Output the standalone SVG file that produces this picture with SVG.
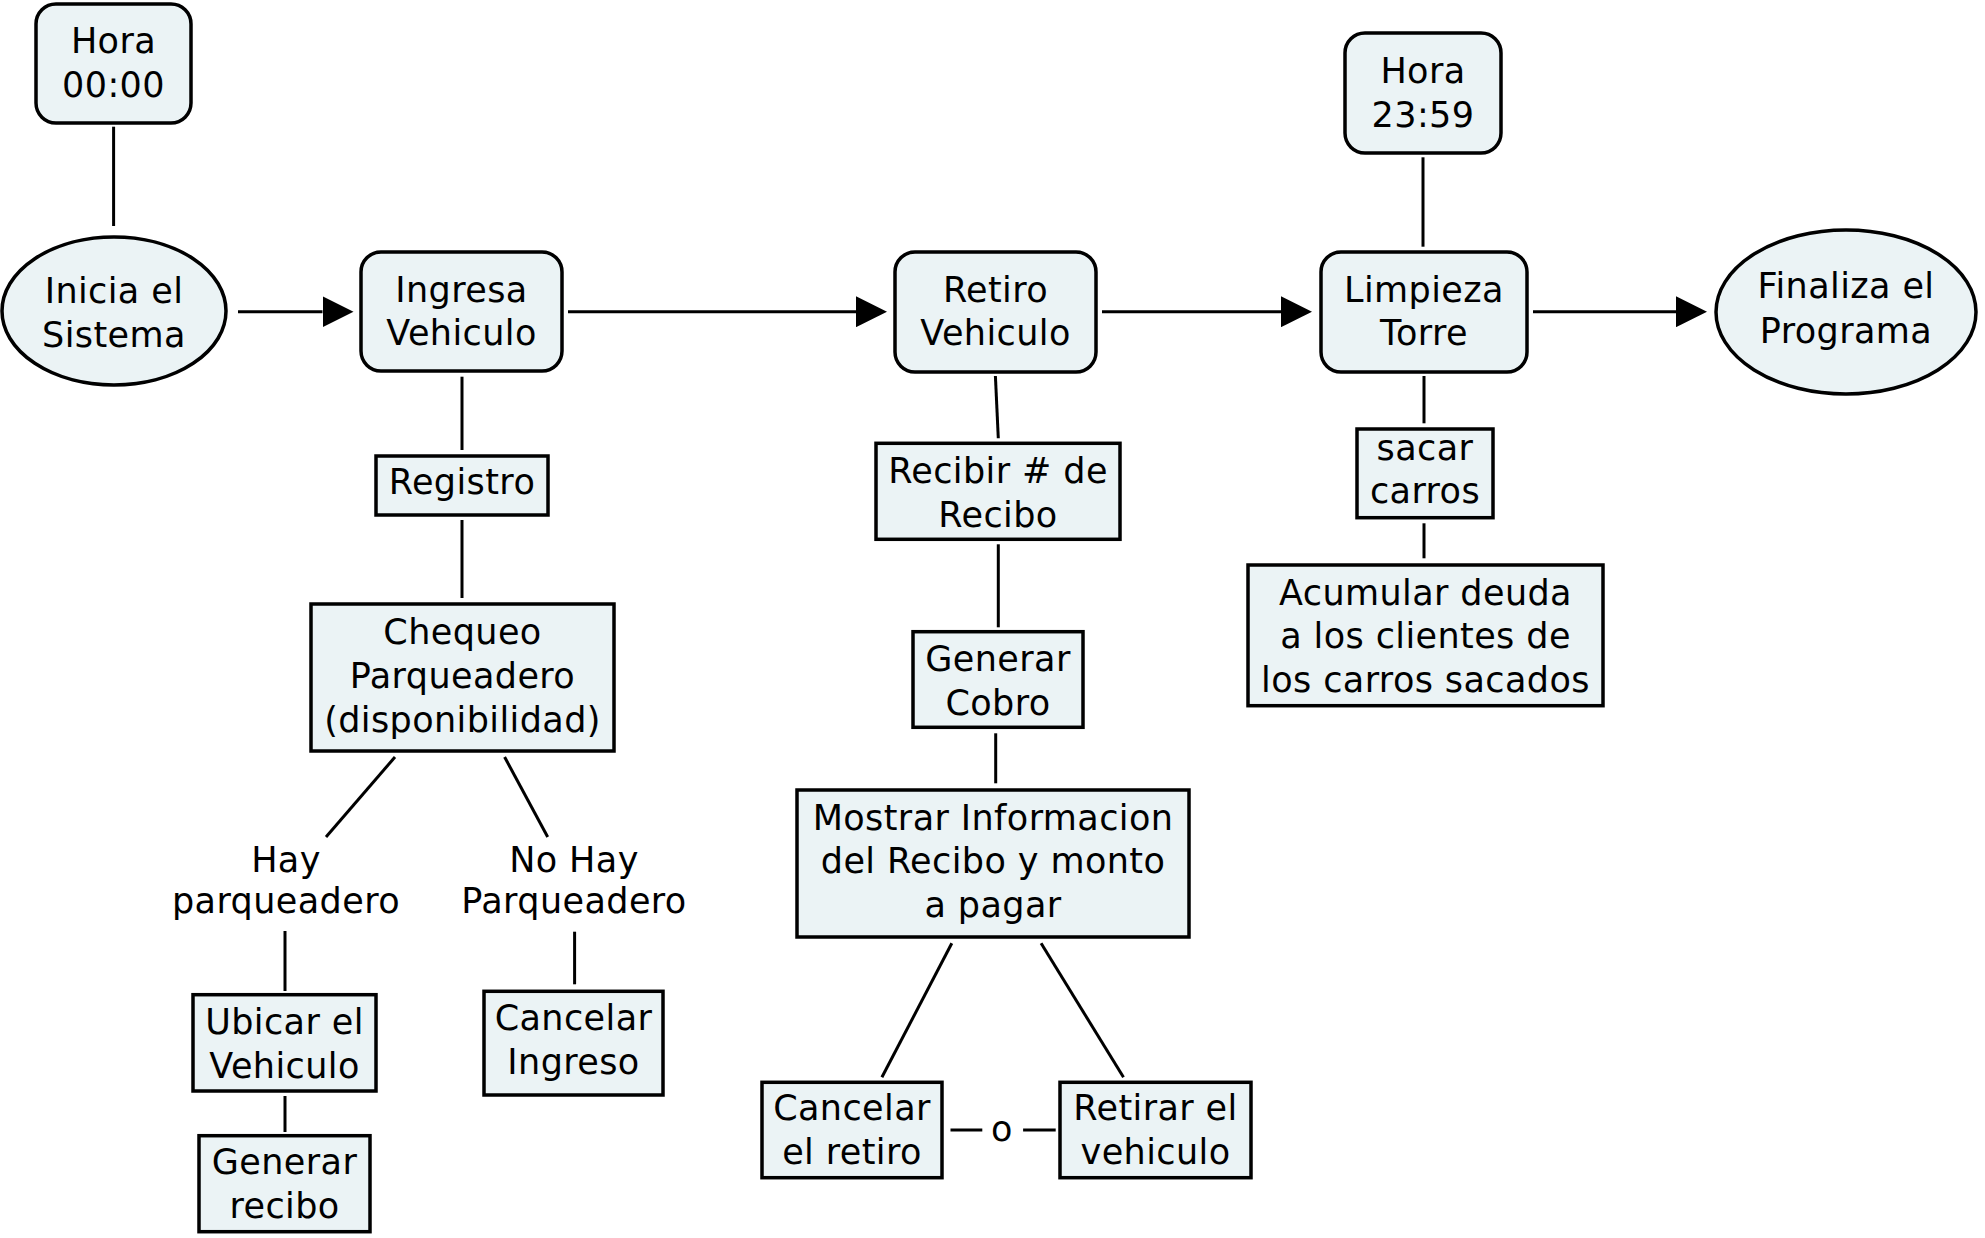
<svg xmlns="http://www.w3.org/2000/svg" width="1985" height="1238" viewBox="0 0 1985 1238">
<defs>
<style>
.n{fill:#ebf3f5;stroke:#000;stroke-width:3.5}
.t{font-family:"DejaVu Sans",Verdana,sans-serif;font-size:35px;text-anchor:middle;fill:#000;letter-spacing:0.4px}
.c line{stroke:#000;stroke-width:3;fill:none}
</style>
<marker id="ah" markerUnits="userSpaceOnUse" markerWidth="32" markerHeight="31" refX="0" refY="15.5" orient="auto">
<path d="M0,0 L31,15.5 L0,31 z" fill="#000"/>
</marker>
</defs>
<rect width="1985" height="1238" fill="#fff"/>
<g id="connectors" class="c">
<line x1="113.6" y1="126.7" x2="113.6" y2="226"/>
<line x1="1423" y1="157.3" x2="1423" y2="246.7"/>
<line x1="238" y1="311.7" x2="322.5" y2="311.7" marker-end="url(#ah)"/>
<line x1="568" y1="311.7" x2="856" y2="311.7" marker-end="url(#ah)"/>
<line x1="1102" y1="311.7" x2="1281" y2="311.7" marker-end="url(#ah)"/>
<line x1="1533" y1="311.7" x2="1676" y2="311.7" marker-end="url(#ah)"/>
<line x1="462" y1="376.7" x2="462" y2="450"/>
<line x1="462" y1="520" x2="462" y2="598"/>
<line x1="395" y1="757" x2="326" y2="837"/>
<line x1="504.6" y1="757" x2="547.7" y2="837"/>
<line x1="285" y1="931" x2="285" y2="991"/>
<line x1="285" y1="1096" x2="285" y2="1132"/>
<line x1="574.6" y1="931.7" x2="574.6" y2="984.3"/>
<line x1="995.4" y1="376" x2="998.3" y2="438.3"/>
<line x1="998.3" y1="544.3" x2="998.3" y2="627.3"/>
<line x1="995.7" y1="733.3" x2="995.7" y2="783.3"/>
<line x1="951.8" y1="943.3" x2="881.9" y2="1077.3"/>
<line x1="1041.1" y1="943.3" x2="1123.5" y2="1077.3"/>
<line x1="950.5" y1="1130" x2="982.3" y2="1130"/>
<line x1="1023.1" y1="1130" x2="1055.7" y2="1130"/>
<line x1="1424" y1="376" x2="1424" y2="423.3"/>
<line x1="1424" y1="523.3" x2="1424" y2="558.3"/>
</g>
<g id="hora0000">
<rect class="n" x="36" y="4" width="155" height="119" rx="20"/>
<text class="t" x="113.5" y="52.7">Hora</text>
<text class="t" x="113.5" y="96.7">00:00</text>
</g>
<g id="inicia">
<ellipse class="n" cx="114" cy="311" rx="112" ry="74"/>
<text class="t" x="114" y="303.3">Inicia el</text>
<text class="t" x="114" y="346.7">Sistema</text>
</g>
<g id="ingresa">
<rect class="n" x="361" y="252" width="201" height="119" rx="20"/>
<text class="t" x="461.5" y="301.7">Ingresa</text>
<text class="t" x="461.5" y="345">Vehiculo</text>
</g>
<g id="retiro">
<rect class="n" x="895" y="252" width="201" height="120" rx="20"/>
<text class="t" x="995.5" y="301.7">Retiro</text>
<text class="t" x="995.5" y="345">Vehiculo</text>
</g>
<g id="limpieza">
<rect class="n" x="1321" y="252" width="206" height="120" rx="20"/>
<text class="t" x="1424" y="301.7">Limpieza</text>
<text class="t" x="1424" y="345">Torre</text>
</g>
<g id="hora2359">
<rect class="n" x="1345" y="33" width="156" height="120" rx="20"/>
<text class="t" x="1423" y="83.3">Hora</text>
<text class="t" x="1423" y="126.7">23:59</text>
</g>
<g id="finaliza">
<ellipse class="n" cx="1846" cy="312" rx="130" ry="82"/>
<text class="t" x="1846" y="298.3">Finaliza el</text>
<text class="t" x="1846" y="343.3">Programa</text>
</g>
<g id="registro">
<rect class="n" x="376" y="456" width="172" height="59"/>
<text class="t" x="462" y="494">Registro</text>
</g>
<g id="chequeo">
<rect class="n" x="311" y="604" width="303" height="147"/>
<text class="t" x="462.5" y="644">Chequeo</text>
<text class="t" x="462.5" y="688.3">Parqueadero</text>
<text class="t" x="462.5" y="731.7">(disponibilidad)</text>
</g>
<g id="hay">
<text class="t" x="286" y="871.7">Hay</text>
<text class="t" x="286" y="913.3">parqueadero</text>
</g>
<g id="nohay">
<text class="t" x="574" y="871.7">No Hay</text>
<text class="t" x="574" y="913.3">Parqueadero</text>
</g>
<g id="ubicar">
<rect class="n" x="193" y="994.7" width="183" height="96.3"/>
<text class="t" x="284.5" y="1034">Ubicar el</text>
<text class="t" x="284.5" y="1077.7">Vehiculo</text>
</g>
<g id="generar-recibo">
<rect class="n" x="199" y="1135.7" width="171" height="96"/>
<text class="t" x="284.5" y="1174">Generar</text>
<text class="t" x="284.5" y="1218.3">recibo</text>
</g>
<g id="cancelar-ingreso">
<rect class="n" x="484" y="991.3" width="179" height="103.7"/>
<text class="t" x="573.5" y="1030">Cancelar</text>
<text class="t" x="573.5" y="1074.3">Ingreso</text>
</g>
<g id="recibir">
<rect class="n" x="876" y="443.3" width="244" height="96"/>
<text class="t" x="998" y="482.7">Recibir # de</text>
<text class="t" x="998" y="526.7">Recibo</text>
</g>
<g id="generar-cobro">
<rect class="n" x="913" y="631.7" width="170" height="95.6"/>
<text class="t" x="998" y="670.7">Generar</text>
<text class="t" x="998" y="715">Cobro</text>
</g>
<g id="mostrar">
<rect class="n" x="797" y="790" width="392" height="147"/>
<text class="t" x="993" y="830">Mostrar Informacion</text>
<text class="t" x="993" y="873.3">del Recibo y monto</text>
<text class="t" x="993" y="917.3">a pagar</text>
</g>
<g id="cancelar-retiro">
<rect class="n" x="762" y="1082.3" width="180" height="95.4"/>
<text class="t" x="852" y="1120">Cancelar</text>
<text class="t" x="852" y="1164">el retiro</text>
</g>
<g id="o">
<text class="t" x="1002" y="1140.7">o</text>
</g>
<g id="retirar">
<rect class="n" x="1060" y="1082.3" width="191" height="95.4"/>
<text class="t" x="1155.5" y="1120">Retirar el</text>
<text class="t" x="1155.5" y="1164">vehiculo</text>
</g>
<g id="sacar">
<rect class="n" x="1357" y="429" width="136" height="88.7"/>
<text class="t" x="1425" y="460">sacar</text>
<text class="t" x="1425" y="503.3">carros</text>
</g>
<g id="acumular">
<rect class="n" x="1248" y="565" width="355" height="140.7"/>
<text class="t" x="1425.5" y="605">Acumular deuda</text>
<text class="t" x="1425.5" y="648.3">a los clientes de</text>
<text class="t" x="1425.5" y="692.3">los carros sacados</text>
</g>
</svg>
